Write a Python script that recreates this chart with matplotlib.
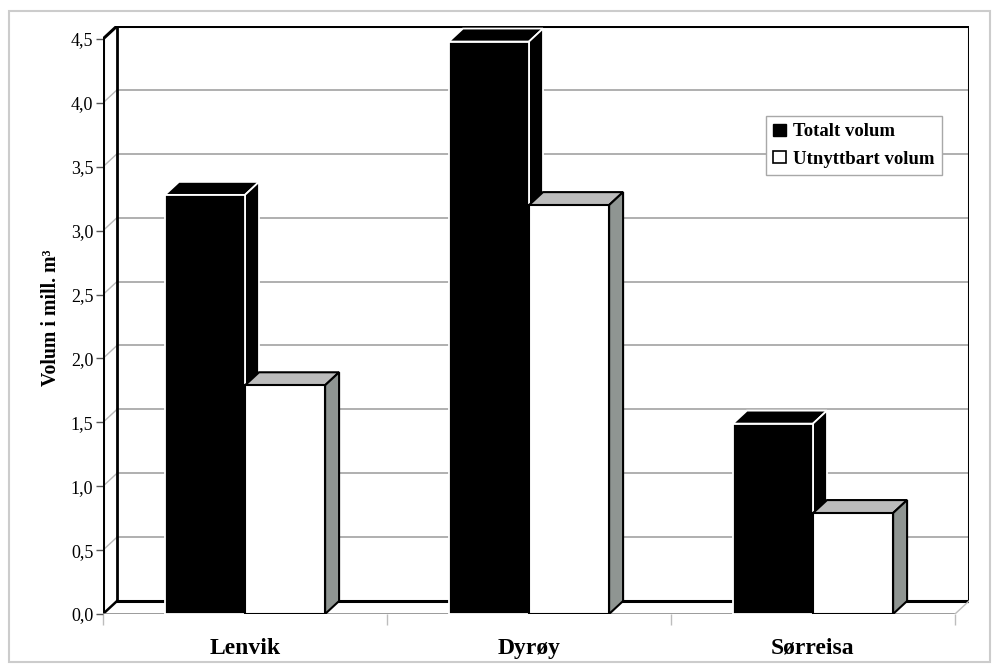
import matplotlib
matplotlib.use("Agg")
import matplotlib.pyplot as plt
from matplotlib.patches import Polygon, Patch, Rectangle

plt.rcParams["font.family"] = ["Liberation Serif", "DejaVu Serif"]

# Data
categories = ["Lenvik", "Dyrøy", "Sørreisa"]
totalt_volum = [3.28, 4.48, 1.49]
utnyttbart_volum = [1.79, 3.20, 0.79]
series_labels = ["Totalt volum", "Utnyttbart volum"]
y_ticks = [0.0, 0.5, 1.0, 1.5, 2.0, 2.5, 3.0, 3.5, 4.0, 4.5]
y_tick_labels = ["0,0", "0,5", "1,0", "1,5", "2,0", "2,5", "3,0", "3,5", "4,0", "4,5"]
y_label = "Volum i mill. m³"

# 3D look: depth offset in data units (x: category units, y: value units)
DX = 0.0493
DY = 0.1016
YMAX = 4.5
N = len(categories)
BAR_W = 0.282

fig = plt.figure(figsize=(9.95, 6.7), dpi=100)
fig.patch.set_facecolor("white")
ax = fig.add_axes([103 / 995, 56 / 670, 866 / 995, 588 / 670])
ax.set_xlim(0, N + DX)
ax.set_ylim(0, YMAX + DY)
for s in ax.spines.values():
    s.set_visible(False)
ax.set_facecolor("none")

# Back wall gridlines and side-wall diagonals
for v in y_ticks[1:-1]:
    ax.plot([DX, N + DX], [v + DY, v + DY], color="#9a9a9a", lw=1.1, zorder=1)
    ax.plot([0, DX], [v, v + DY], color="#b8b8b8", lw=1.0, zorder=1)

# Walls and floor outlines
k = dict(color="black", solid_capstyle="projecting", zorder=2)
ax.plot([DX, N + DX], [YMAX + DY, YMAX + DY], lw=2.2, **k)
ax.plot([N + DX, N + DX], [DY, YMAX + DY], lw=2.2, **k)
ax.plot([DX, N + DX], [DY, DY], lw=2.2, **k)
ax.plot([DX, DX], [DY, YMAX + DY], lw=2.0, **k)
ax.plot([0, 0], [0, YMAX], lw=2.2, **k)
ax.plot([0, DX], [YMAX, YMAX + DY], lw=2.2, **k)
ax.plot([0, DX], [0, DY], lw=1.8, **k)
ax.plot([0, N], [0, 0], color="#8a8a8a", lw=1.2, zorder=2)
ax.plot([N, N + DX], [0, DY], color="#bdbdbd", lw=1.0, zorder=2)


def box(x0, h, face, top, side, edge, lw, z):
    ax.bar([x0], [h], width=BAR_W, align="edge", color=face,
           edgecolor=edge, linewidth=lw, zorder=z + 0.2)
    ax.add_patch(Polygon([(x0, h), (x0 + BAR_W, h), (x0 + BAR_W + DX, h + DY),
                          (x0 + DX, h + DY)], closed=True, facecolor=top,
                         edgecolor=edge, linewidth=lw, zorder=z))
    ax.add_patch(Polygon([(x0 + BAR_W, 0), (x0 + BAR_W + DX, DY),
                          (x0 + BAR_W + DX, h + DY), (x0 + BAR_W, h)],
                         closed=True, facecolor=side, edgecolor=edge,
                         linewidth=lw, zorder=z + 0.1))


for i in range(N):
    c = i + 0.5
    box(c - BAR_W, totalt_volum[i], "black", "black", "black", "white", 1.3, 3)
    box(c, utnyttbart_volum[i], "white", "#bcbcbc", "#8f9592", "black", 1.5, 4)

# Axis ticks and labels
ax.set_yticks(y_ticks)
ax.set_yticklabels(y_tick_labels, fontsize=13)
ax.tick_params(axis="y", direction="out", length=5, width=1, color="#555555", pad=2)
ax.set_xticks([i + 0.5 for i in range(N)])
ax.set_xticklabels(categories, fontsize=17, fontweight="bold")
ax.set_xticks(list(range(N + 1)), minor=True)
ax.tick_params(axis="x", which="major", length=0, pad=17)
ax.tick_params(axis="x", which="minor", direction="out", length=8, width=1, color="#bdbdbd")

fig.text(51 / 995, 1 - 318 / 670, y_label, rotation=90, ha="center", va="center",
         fontsize=14.2, fontweight="bold")

handles = [Patch(facecolor="black", edgecolor="black", linewidth=1),
           Patch(facecolor="white", edgecolor="black", linewidth=1.2)]
leg = ax.legend(handles, series_labels, loc="upper left",
                bbox_to_anchor=(766 / 995, 1 - 116 / 670),
                bbox_transform=fig.transFigure, fancybox=False, framealpha=1,
                edgecolor="#a8a8a8", handlelength=0.65, handleheight=0.6,
                handletextpad=0.4, borderpad=0.4, labelspacing=0.55,
                borderaxespad=0, prop={"size": 13.5, "weight": "bold"})
leg.get_frame().set_linewidth(1.0)
leg.set_zorder(10)

# Outer frame
fig.patches.append(Rectangle((9 / 995, 8 / 670), 981 / 995, 651 / 670,
                             transform=fig.transFigure, fill=False,
                             edgecolor="#cccccc", linewidth=1.5))

fig.savefig("out.png", dpi=100)
